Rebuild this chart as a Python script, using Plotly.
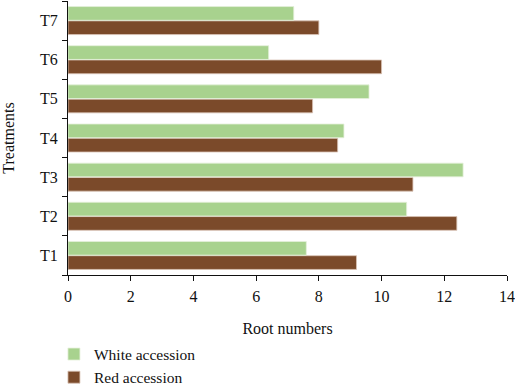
import plotly.graph_objects as go

treatments = ["T1", "T2", "T3", "T4", "T5", "T6", "T7"]
white_accession = [7.6, 10.8, 12.6, 8.8, 9.6, 6.4, 7.2]
red_accession = [9.2, 12.4, 11.0, 8.6, 7.8, 10.0, 8.0]
x_ticks = [0, 2, 4, 6, 8, 10, 12, 14]

green = "#A8D28E"
brown = "#7B4A2A"
font_family = "Liberation Serif"

fig = go.Figure()
fig.add_trace(go.Bar(
    y=treatments, x=red_accession, orientation="h", name="Red accession",
    marker=dict(color=brown, line=dict(color="#D9C3B5", width=0.8)),
))
fig.add_trace(go.Bar(
    y=treatments, x=white_accession, orientation="h", name="White accession",
    marker=dict(color=green, line=dict(color="#E4F0DA", width=0.8)),
))

fig.update_layout(
    width=515, height=387,
    margin=dict(l=68, r=8, t=1, b=112, autoexpand=False),
    paper_bgcolor="white", plot_bgcolor="white",
    barmode="group", bargap=0.27, bargroupgap=0.04,
    font=dict(family=font_family, size=16, color="#111111"),
    showlegend=True,
    legend=dict(
        x=-0.032, xanchor="left", y=-0.228, yanchor="top",
        traceorder="reversed", font=dict(size=15.5, family=font_family),
        bgcolor="rgba(0,0,0,0)", itemwidth=30, tracegroupgap=0,
    ),
    xaxis=dict(
        range=[0, 14], tickvals=x_ticks, ticktext=[str(v) for v in x_ticks],
        showline=True, linecolor="#111111", linewidth=1.2,
        ticks="outside", ticklen=5, tickcolor="#111111", ticklabelstandoff=2,
        showgrid=False, zeroline=False, automargin=False,
        title=dict(text="Root numbers", standoff=18, font=dict(size=16)),
    ),
    yaxis=dict(
        categoryorder="array", categoryarray=treatments,
        showline=True, linecolor="#111111", linewidth=1.2,
        ticks="outside", ticklen=5, tickcolor="#111111", tickson="boundaries",
        ticklabelstandoff=6, automargin=False,
        showgrid=False, zeroline=False,
        title=dict(text="Treatments", standoff=21, font=dict(size=16)),
    ),
)

fig.write_html("out.html")
